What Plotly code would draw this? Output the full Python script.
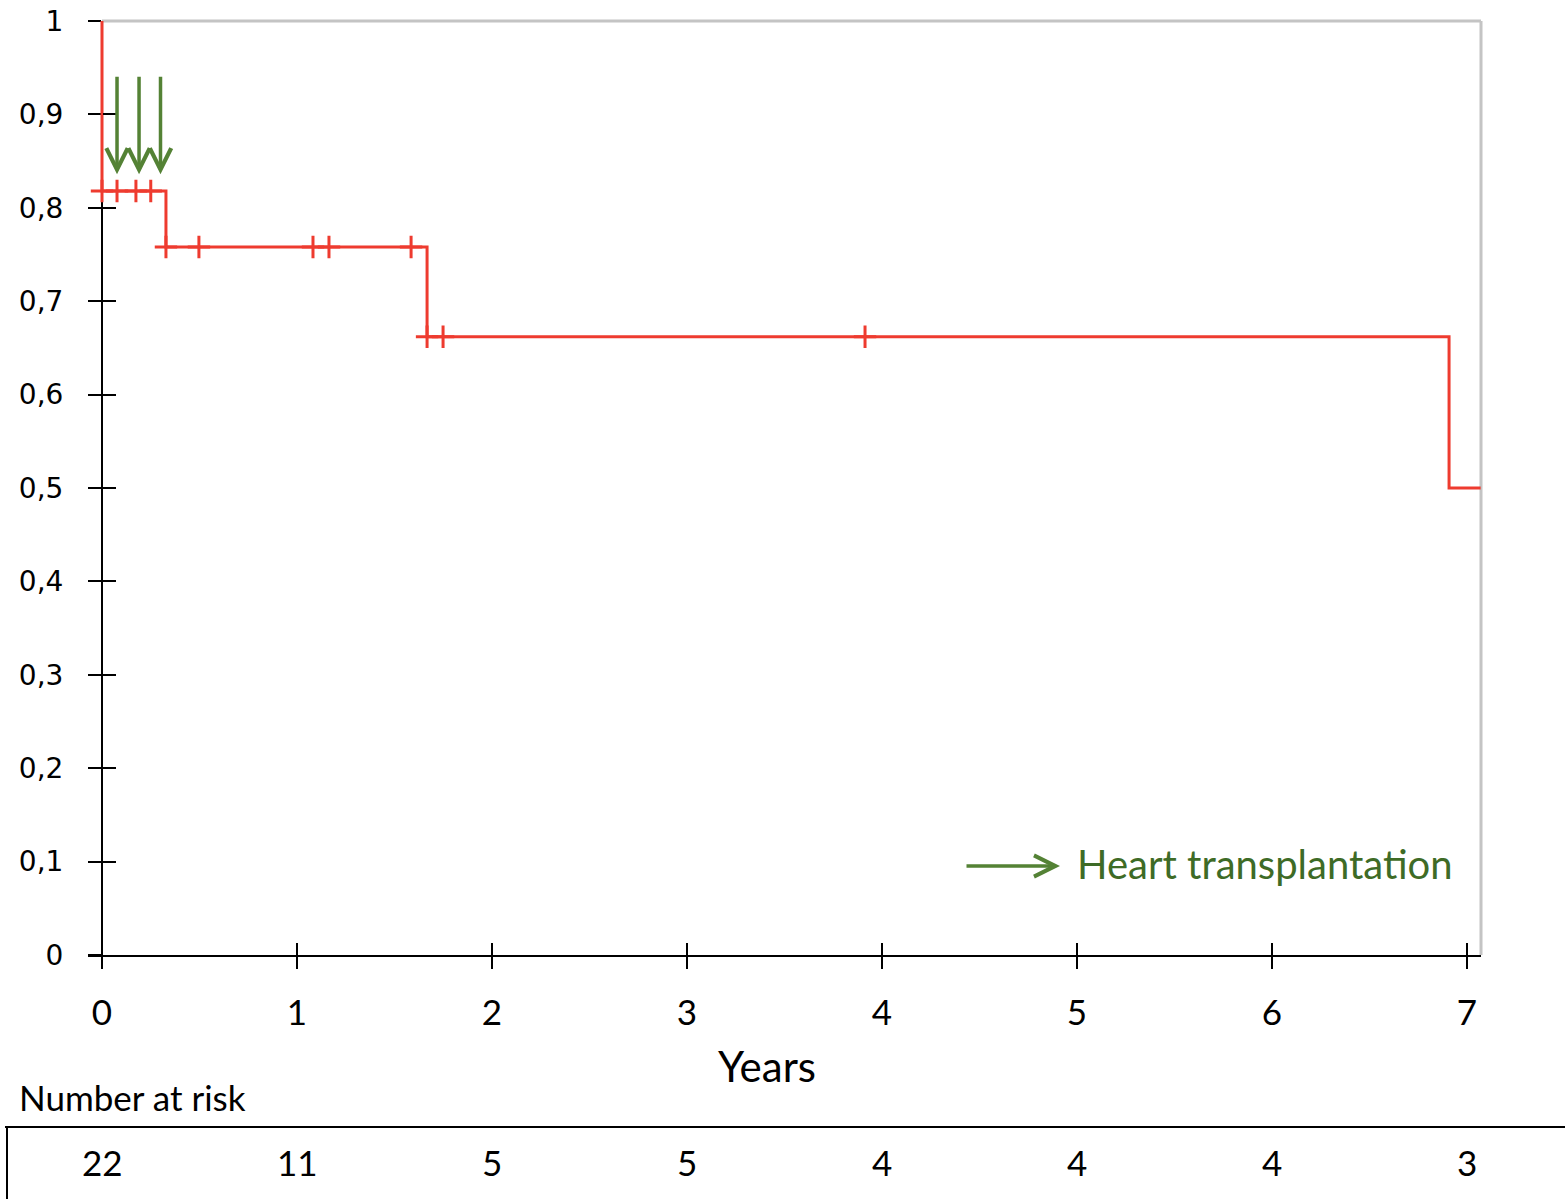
import numpy as np
import plotly.graph_objects as go

# ---------------- data ----------------
event_times = [0.0, 0.328, 1.667, 6.908]          # years at which survival drops
surv_after_event = [0.818, 0.758, 0.662, 0.500]   # survival right after each drop
start_survival = 1.0
end_of_followup = 7.07
censor_times = [0.0, 0.077, 0.174, 0.250, 0.328, 0.497, 1.082, 1.164,
                1.585, 1.667, 1.749, 3.913]
transplant_times = [0.077, 0.190, 0.300]
arrow_top, arrow_tip = 0.942, 0.836

year_ticks = [0, 1, 2, 3, 4, 5, 6, 7]
year_labels = ["0", "1", "2", "3", "4", "5", "6", "7"]
surv_ticks = [0, 0.1, 0.2, 0.3, 0.4, 0.5, 0.6, 0.7, 0.8, 0.9, 1.0]
surv_labels = ["0", "0,1", "0,2", "0,3", "0,4", "0,5", "0,6", "0,7", "0,8", "0,9", "1"]
risk_years = [0, 1, 2, 3, 4, 5, 6, 7]
number_at_risk = [22, 11, 5, 5, 4, 4, 4, 3]

# ---------------- styling ----------------
RED = "#EE3B2F"
GREEN = "#548235"
TEXT_GREEN = "#3E6B26"
W, H = 1565, 1199
L, R, T, B = 88, 84, 21, 244
PW, PH = W - L - R, H - T - B
XR = [-0.0718, 7.0718]
x0_paper = (0 - XR[0]) / (XR[1] - XR[0])

def px_to_px(xpx):
    return (xpx - L) / PW

def py_to_py(ypx):
    return (H - B - ypx) / PH

step_x = [0.0] + event_times + [end_of_followup]
step_y = [start_survival] + surv_after_event + [surv_after_event[-1]]

idx = np.searchsorted(np.array(event_times), np.array(censor_times), side="right") - 1
censor_y = [surv_after_event[i] for i in idx]

fig = go.Figure()
fig.add_trace(go.Scatter(x=step_x, y=step_y, mode="lines", line_shape="hv",
                         line=dict(color=RED, width=3), showlegend=False,
                         hoverinfo="skip"))
fig.add_trace(go.Scatter(x=censor_times, y=censor_y, mode="markers",
                         marker=dict(symbol="cross-thin", size=16,
                                     line=dict(color=RED, width=3), color=RED),
                         showlegend=False, cliponaxis=False, hoverinfo="skip"))
# invisible trace for overlay axes (crossing ticks)
fig.add_trace(go.Scatter(x=[None], y=[None], xaxis="x2", yaxis="y2",
                         showlegend=False, hoverinfo="skip"))

annotations = []
for t in transplant_times:
    annotations.append(dict(x=t, y=arrow_tip, ax=t, ay=arrow_top, xref="x", yref="y",
                            axref="x", ayref="y", text="", showarrow=True,
                            arrowhead=5, arrowsize=1.2, arrowwidth=3.5,
                            arrowcolor=GREEN))
# legend arrow + text
annotations.append(dict(x=px_to_px(1060), y=py_to_py(866), xref="paper", yref="paper",
                        ax=-95, ay=0, axref="pixel", ayref="pixel", text="",
                        showarrow=True, arrowhead=5, arrowsize=1.2, arrowwidth=3.5,
                        arrowcolor=GREEN))
annotations.append(dict(x=px_to_px(1075), y=py_to_py(864), xref="paper", yref="paper",
                        text="Heart transplantation", showarrow=False,
                        xanchor="left", yanchor="middle",
                        font=dict(family="Lato", size=40, color=TEXT_GREEN)))
annotations.append(dict(x=px_to_px(767), y=py_to_py(1066), xref="paper", yref="paper",
                        text="Years", showarrow=False, xanchor="center", yanchor="middle",
                        font=dict(family="Lato", size=42, color="black")))
annotations.append(dict(x=px_to_px(17), y=py_to_py(1097), xref="paper", yref="paper",
                        text="Number at risk", showarrow=False, xanchor="left",
                        yanchor="middle",
                        font=dict(family="Lato", size=35, color="black")))
for yr, n in zip(risk_years, number_at_risk):
    annotations.append(dict(x=yr, y=py_to_py(1162), xref="x", yref="paper",
                            text=str(n), showarrow=False, xanchor="center",
                            yanchor="middle",
                            font=dict(family="Lato", size=35, color="black")))

shapes = [
    # gray frame top & right
    dict(type="line", xref="paper", yref="paper", x0=x0_paper, x1=1, y0=1, y1=1,
         line=dict(color="#C4C4C4", width=3), layer="below"),
    dict(type="line", xref="paper", yref="paper", x0=1, x1=1, y0=0, y1=1,
         line=dict(color="#C4C4C4", width=3), layer="below"),
    # number-at-risk table lines
    dict(type="line", xref="paper", yref="paper", x0=px_to_px(5), x1=px_to_px(1570),
         y0=py_to_py(1127), y1=py_to_py(1127), line=dict(color="black", width=2)),
    dict(type="line", xref="paper", yref="paper", x0=px_to_px(7), x1=px_to_px(7),
         y0=py_to_py(1127), y1=py_to_py(1205), line=dict(color="black", width=2)),
]

axis_common = dict(showgrid=False, zeroline=False, tickcolor="black", tickwidth=2)

fig.update_layout(
    width=W, height=H,
    margin=dict(l=L, r=R, t=T, b=B, autoexpand=False),
    paper_bgcolor="white", plot_bgcolor="white",
    xaxis=dict(range=XR, tickvals=year_ticks, ticktext=year_labels, ticks="outside",
               ticklen=12, showline=True, linecolor="black", linewidth=2,
               ticklabelstandoff=14, layer="below traces",
               tickfont=dict(family="Lato", size=35, color="black"), **axis_common),
    yaxis=dict(range=[0, 1], tickvals=surv_ticks, ticktext=surv_labels, ticks="outside",
               ticklen=13, showline=True, linecolor="black", linewidth=2,
               anchor="free", position=x0_paper, ticklabelstandoff=19,
               layer="below traces",
               tickfont=dict(family="DejaVu Sans", size=28, color="black"), **axis_common),
    xaxis2=dict(range=XR, overlaying="x", anchor="y2", side="bottom",
                tickvals=year_ticks, ticks="inside", ticklen=12, showticklabels=False,
                showline=False, **axis_common),
    yaxis2=dict(range=[0, 1], overlaying="y", anchor="free", position=x0_paper,
                side="left", tickvals=surv_ticks, ticks="inside", ticklen=13,
                showticklabels=False, showline=False, **axis_common),
    annotations=annotations,
    shapes=shapes,
)

fig.write_html("out.html", config={"displayModeBar": False},
               post_script="document.body.style.margin='0';document.body.style.overflow='hidden';")
